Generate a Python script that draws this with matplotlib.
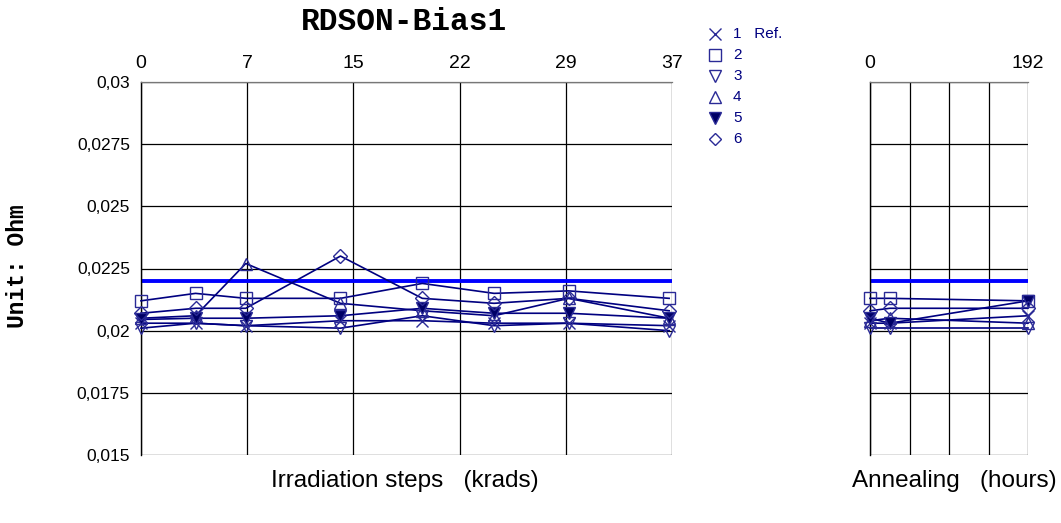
import matplotlib
matplotlib.use("Agg")
import matplotlib.pyplot as plt

# ---- data ----
irr_doses = [0, 3.8, 7.3, 13.9, 19.6, 24.6, 29.8, 36.8]
ann_hours = [0, 24, 192]
irr_tick_pos = [0, 7.4, 14.8, 22.2, 29.6, 37]
irr_tick_labels = ["0", "7", "15", "22", "29", "37"]
ann_tick_pos = [0, 48, 96, 144, 192]
ann_tick_labels = ["0", "", "", "", "192"]
y_ticks = [0.015, 0.0175, 0.02, 0.0225, 0.025, 0.0275, 0.03]
y_tick_labels = ["0,015", "0,0175", "0,02", "0,0225", "0,025", "0,0275", "0,03"]
limit_value = 0.022

series_names = ["1   Ref.", "2", "3", "4", "5", "6"]
s1_irr = [0.0203, 0.0203, 0.0202, 0.0204, 0.0204, 0.0203, 0.0203, 0.0202]
s2_irr = [0.0212, 0.0215, 0.0213, 0.0213, 0.0219, 0.0215, 0.0216, 0.0213]
s3_irr = [0.0201, 0.0203, 0.0202, 0.0201, 0.0206, 0.0202, 0.0203, 0.0200]
s4_irr = [0.0205, 0.0206, 0.0227, 0.0211, 0.0208, 0.0206, 0.0213, 0.0205]
s5_irr = [0.02045, 0.0205, 0.0205, 0.0206, 0.0209, 0.0207, 0.0207, 0.0205]
s6_irr = [0.0207, 0.0209, 0.0209, 0.0230, 0.0213, 0.0211, 0.0213, 0.0208]

s1_ann = [0.0203, 0.0203, 0.0206]
s2_ann = [0.0213, 0.0213, 0.0212]
s3_ann = [0.0201, 0.0201, 0.0201]
s4_ann = [0.0204, 0.0205, 0.0203]
s5_ann = [0.0205, 0.0203, 0.0212]
s6_ann = [0.0208, 0.0209, 0.0209]

irr_series = [s1_irr, s2_irr, s3_irr, s4_irr, s5_irr, s6_irr]
ann_series = [s1_ann, s2_ann, s3_ann, s4_ann, s5_ann, s6_ann]
markers = ["x", "s", "v", "^", "v", "D"]
filled = [False, False, False, False, True, False]
msizes = [9, 9, 9, 9, 9, 7]

line_color = "#000080"
edge_color = "#2a2a96"
limit_color = "#0000ff"

fig = plt.figure(figsize=(10.61, 5.23), dpi=100)
W, H = 1061, 523
ax1 = fig.add_axes([141 / W, 1 - 455 / H, (672 - 141) / W, (455 - 82) / H])
ax2 = fig.add_axes([870 / W, 1 - 455 / H, (1028 - 870) / W, (455 - 82) / H])

def style(ax, xmax, tpos, tlabels, show_y):
    ax.set_xlim(0, xmax)
    ax.set_ylim(0.015, 0.03)
    ax.set_xticks(tpos)
    ax.set_xticklabels(tlabels)
    ax.xaxis.tick_top()
    ax.tick_params(axis="x", length=0, pad=7, labelsize=14)
    ax.set_yticks(y_ticks)
    if show_y:
        ax.set_yticklabels(y_tick_labels)
        ax.tick_params(axis="y", length=0, pad=8, labelsize=12.5)
    else:
        ax.set_yticklabels([])
        ax.tick_params(axis="y", length=0)
    ax.grid(True, color="black", linewidth=0.9)
    for sp in ax.spines.values():
        sp.set_visible(False)
    ax.spines["left"].set_visible(True)
    ax.spines["left"].set_linewidth(1.0)
    ax.spines["top"].set_visible(True)
    ax.spines["top"].set_color("#777777")
    ax.spines["top"].set_linewidth(0.9)
    ax.set_axisbelow(True)

style(ax1, 37, irr_tick_pos, irr_tick_labels, True)
style(ax2, 192, ann_tick_pos, ann_tick_labels, False)

for ax, xs, data in [(ax1, irr_doses, irr_series), (ax2, ann_hours, ann_series)]:
    ax.axhline(limit_value, color=limit_color, linewidth=2.8, zorder=2)
    for i, ys in enumerate(data):
        ax.plot(xs, ys, color=line_color, linewidth=1.2, zorder=3, clip_on=False)
        ax.plot(xs, ys, linestyle="none", marker=markers[i], markersize=msizes[i],
                markeredgecolor=edge_color,
                markerfacecolor=("#000066" if filled[i] else "none"),
                markeredgewidth=1.0, zorder=4, clip_on=False)

# legend
for i, name in enumerate(series_names):
    ly = 34 + i * 21
    fig.lines.append(plt.Line2D([715 / W], [1 - ly / H], transform=fig.transFigure,
                                marker=markers[i], markersize=9 if markers[i] != "D" else 6.5,
                                markeredgecolor=edge_color,
                                markerfacecolor=("#000066" if filled[i] else "none"),
                                markeredgewidth=1.0, linestyle="none"))
    fig.text(733 / W, 1 - ly / H, name, fontsize=11, color=line_color,
             va="center", ha="left", family="Liberation Sans")

fig.text(404 / W, 1 - 22 / H, "RDSON-Bias1", fontsize=22.5, fontweight="bold",
         family="Liberation Mono", ha="center", va="center")
fig.text(18 / W, 1 - 266 / H, "Unit: Ohm", fontsize=16.5, fontweight="bold",
         family="Liberation Mono", rotation=90, ha="center", va="center")
fig.text(405 / W, 1 - 481 / H, "Irradiation steps   (krads)", fontsize=17.5,
         family="Liberation Sans", ha="center", va="center")
fig.text(954 / W, 1 - 481 / H, "Annealing   (hours)", fontsize=17.5,
         family="Liberation Sans", ha="center", va="center")

for ax in (ax1, ax2):
    for lab in ax.get_xticklabels() + ax.get_yticklabels():
        lab.set_family("Liberation Sans")

fig.savefig("out.png", dpi=100)
